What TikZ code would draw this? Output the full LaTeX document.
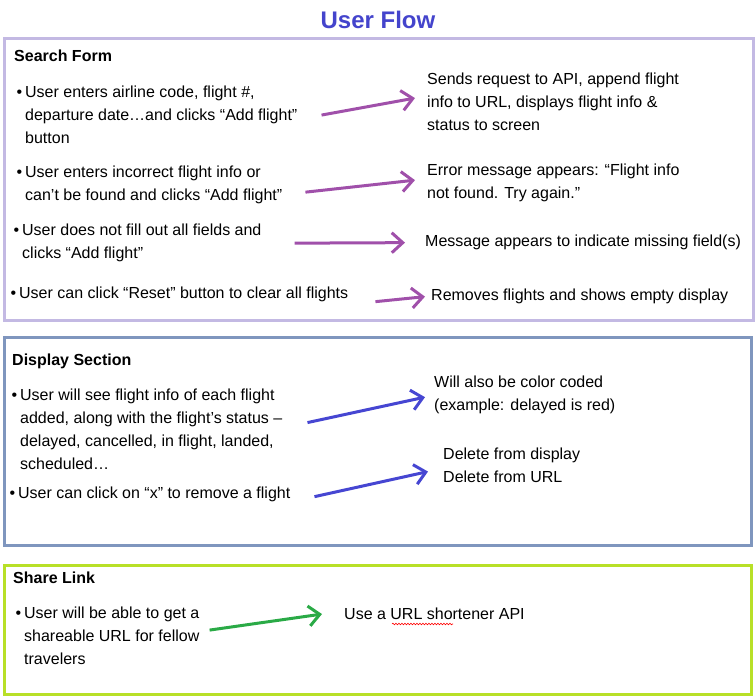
\documentclass[tikz,border=0pt]{standalone}
\usepackage{fontspec}
\setmainfont{Liberation Sans}
\usetikzlibrary{calc}
\usetikzlibrary{arrows.meta,decorations.pathmorphing}
\usepackage{xcolor}
\definecolor{titleblue}{HTML}{4444CC}
\definecolor{searchframe}{HTML}{C3B9E3}
\definecolor{displayframe}{HTML}{7F96BE}
\definecolor{shareframe}{HTML}{B8E028}
\definecolor{purplearrow}{HTML}{A050AA}
\definecolor{bluearrow}{HTML}{4646D2}
\definecolor{greenarrow}{HTML}{2AAA46}
\newcommand{\bul}{\llap{\textbullet\hspace{3pt}}}

\begin{document}
\begin{tikzpicture}[x=1pt, y=-1pt,
  body_text/.style={anchor=north west, inner sep=0pt, align=left, font=\fontsize{16}{23}\selectfont},
  head_text/.style={anchor=north west, inner sep=0pt, font=\fontsize{16}{19}\selectfont\bfseries},
  frame/.style={line width=\framewidth},
  flow_arrow/.style={line width=\arrowwidth, -{Straight Barb[length=11pt,width=20pt]}}]
\pgfmathsetmacro{\framewidth}{3}
\pgfmathsetmacro{\arrowwidth}{3}

\useasboundingbox (0,0) rectangle (756,699);

\node (title) at (378,20) [font=\fontsize{24}{28}\selectfont\bfseries, text=titleblue] {User Flow};

\draw [frame, searchframe] (4,38) rectangle (753,320);
\draw [frame, displayframe] (4,337) rectangle (751,545);
\draw [frame, shareframe] (4,565) rectangle (751,694);

% search form
\node (search_head) at (14,50) [head_text] {Search Form};
\node (left_add) at (25,86) [body_text] {\bul User enters airline code, flight \#,\\departure date…and clicks “Add flight”\\button};
\node (right_add) at (427,73) [body_text] {Sends request to API, append flight\\info to URL, displays flight info \&\\status to screen};
\node (left_wrong) at (25,166) [body_text] {\bul User enters incorrect flight info or\\can’t be found and clicks “Add flight”};
\node (right_wrong) at (427,164) [body_text] {Error message appears: “Flight info\\not found. Try again.”};
\node (left_empty) at (22,224) [body_text] {\bul User does not fill out all fields and\\clicks “Add flight”};
\node (right_empty) at (425,235) [body_text] {Message appears to indicate missing field(s)};
\node (left_reset) at (19,287) [body_text] {\bul User can click “Reset” button to clear all flights};
\node (right_reset) at (431,289) [body_text] {Removes flights and shows empty display};

\draw [flow_arrow, purplearrow] ($(left_add.east)+(24,0)$) -- ($(right_add.west)+(-12,-4)$);
\draw [flow_arrow, purplearrow] ($(left_wrong.east)+(23,7)$) -- ($(right_wrong.west)+(-12,-3)$);
\draw [flow_arrow, purplearrow] ($(left_empty.east)+(33,0)$) -- ($(right_empty.west)+(-20,0)$);
\draw [flow_arrow, purplearrow] ($(left_reset.east)+(27,7)$) -- ($(right_reset.west)+(-6,0)$);

% display section
\node (display_head) at (12,354) [head_text] {Display Section};
\node (left_status) at (20,389) [body_text] {\bul User will see flight info of each flight\\added, along with the flight’s status –\\delayed, cancelled, in flight, landed,\\scheduled…};
\node (right_status) at (434,376) [body_text] {Will also be color coded\\(example: delayed is red)};
\node (left_remove) at (18,487) [body_text] {\bul User can click on “x” to remove a flight};
\node (right_remove) at (443,448) [body_text] {Delete from display\\Delete from URL};

\draw [flow_arrow, bluearrow] ($(left_status.east)+(25,-7)$) -- ($(right_status.west)+(-9,2)$);
\draw [flow_arrow, bluearrow] ($(left_remove.east)+(24,2)$) -- ($(right_remove.west)+(-15,6)$);

% share link
\node (share_head) at (13,572) [head_text] {Share Link};
\node (left_share) at (24,607) [body_text] {\bul User will be able to get a\\shareable URL for fellow\\travelers};
\node (right_share) at (344,608) [body_text] {Use a URL shortener API};

\draw [flow_arrow, greenarrow] ($(left_share.east)+(10,-6)$) -- ($(right_share.west)+(-22,0)$);
\draw [red, line width=0.6pt, decorate, decoration={snake, amplitude=0.8pt, segment length=3pt}] (392,624) -- (453,624);
\end{tikzpicture}
\end{document}
